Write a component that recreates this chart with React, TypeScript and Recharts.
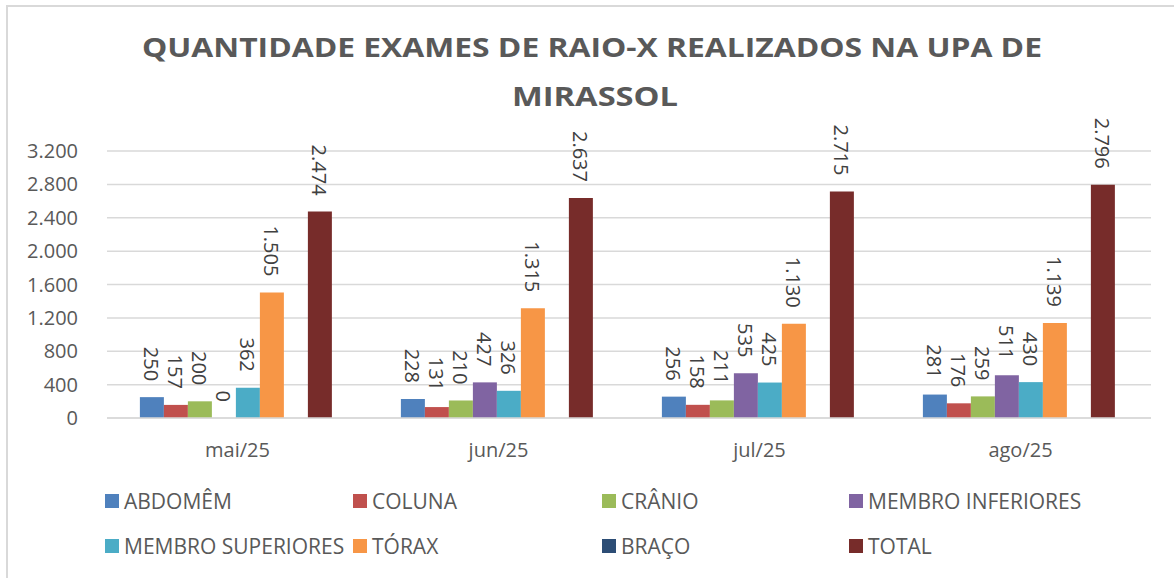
import React from 'react';
import { BarChart, Bar, XAxis, YAxis, CartesianGrid, Legend, LabelList } from 'recharts';

const categories = ['mai/25', 'jun/25', 'jul/25', 'ago/25'];
const abdomem = [250, 228, 256, 281];
const coluna = [157, 131, 158, 176];
const cranio = [200, 210, 211, 259];
const membroInferiores = [0, 427, 535, 511];
const membroSuperiores = [362, 326, 425, 430];
const torax = [1505, 1315, 1130, 1139];
const braco: (number | null)[] = [null, null, null, null];
const total = [2474, 2637, 2715, 2796];
const yTicks = [0, 400, 800, 1200, 1600, 2000, 2400, 2800, 3200];

const seriesDefs = [
  { key: 'abdomem', name: 'ABDOMÊM', color: '#4F81BD', values: abdomem },
  { key: 'coluna', name: 'COLUNA', color: '#C0504D', values: coluna },
  { key: 'cranio', name: 'CRÂNIO', color: '#9BBB59', values: cranio },
  { key: 'membroInf', name: 'MEMBRO INFERIORES', color: '#8064A2', values: membroInferiores },
  { key: 'membroSup', name: 'MEMBRO SUPERIORES', color: '#4BACC6', values: membroSuperiores },
  { key: 'torax', name: 'TÓRAX', color: '#F79646', values: torax },
  { key: 'braco', name: 'BRAÇO', color: '#2C4D75', values: braco },
  { key: 'total', name: 'TOTAL', color: '#772C2A', values: total },
];

const data = categories.map((c, i) => {
  const row: Record<string, any> = { cat: c, idx: i + 0.5 };
  seriesDefs.forEach((s) => {
    row[s.key] = s.values[i];
  });
  return row;
});

const fmt = (v: number) => String(v).replace(/\B(?=(\d{3})+(?!\d))/g, '.');

const FONT = "'Open Sans', sans-serif";

const RotLabel = (props: any) => {
  const { x, y, width, height, value } = props;
  if (value === null || value === undefined) return null;
  const cx = Number(x) + Number(width) / 2;
  const top = Math.min(Number(y), Number(y) + Number(height || 0));
  const ty = top - 16;
  return (
    <text
      x={cx}
      y={ty}
      transform={`rotate(90 ${cx} ${ty})`}
      textAnchor="end"
      dominantBaseline="central"
      fontSize={20}
      fill="#404040"
      fontFamily={FONT}
    >
      {fmt(Number(value))}
    </text>
  );
};

const LegendContent = () => (
  <div
    style={{
      display: 'grid',
      gridTemplateColumns: '248px 249px 247px 260px',
      rowGap: 21,
      paddingLeft: 105,
      fontFamily: FONT,
      fontSize: 21,
      color: '#595959',
    }}
  >
    {seriesDefs.map((s) => (
      <div key={s.key} style={{ display: 'flex', alignItems: 'center', height: 24, whiteSpace: 'nowrap' }}>
        <span style={{ display: 'inline-block', width: 14, height: 14, background: s.color, marginRight: 5 }} />
        <span>{s.name}</span>
      </div>
    ))}
  </div>
);

const tinyForZero = (v: any) => (v === 0 ? 0.01 : 0);

export default function App() {
  return (
    <div style={{ position: 'absolute', left: 0, top: 0, width: 1174, height: 578, background: '#fff', fontFamily: FONT }}>
      <BarChart
        width={1174}
        height={578}
        data={data}
        margin={{ top: 151, right: 23, left: 0, bottom: 99 }}
        barCategoryGap="12.6%"
        barGap={0}
      >
        <rect x={7} y={6} width={1200} height={600} fill="none" stroke="#d9d9d9" strokeWidth={2} />
        <text
          x={592}
          y={57}
          textAnchor="middle"
          fontSize={27}
          fontWeight={700}
          fill="#595959"
          fontFamily={FONT}
          textLength={900}
          lengthAdjust="spacingAndGlyphs"
        >
          QUANTIDADE EXAMES DE RAIO-X REALIZADOS NA UPA DE
        </text>
        <text
          x={595}
          y={106}
          textAnchor="middle"
          fontSize={27}
          fontWeight={700}
          fill="#595959"
          fontFamily={FONT}
          textLength={166}
          lengthAdjust="spacingAndGlyphs"
        >
          MIRASSOL
        </text>
        <CartesianGrid vertical={false} stroke="#d9d9d9" strokeWidth={1.5} />
        <XAxis
          xAxisId="edges"
          type="number"
          dataKey="idx"
          domain={[0, 4]}
          ticks={[0, 1, 2, 3, 4]}
          tick={false}
          axisLine={false}
          tickLine={{ stroke: '#d9d9d9', strokeWidth: 1.5 }}
          tickSize={7}
          height={1}
        />
        <XAxis
          dataKey="cat"
          axisLine={{ stroke: '#d9d9d9', strokeWidth: 1.5 }}
          tickLine={false}
          tick={{ fontSize: 20, fill: '#595959', fontFamily: FONT }}
          tickMargin={19}
          height={60}
        />
        <YAxis
          width={107}
          domain={[0, 3200]}
          ticks={yTicks}
          axisLine={false}
          tickLine={false}
          tickMargin={23}
          tickFormatter={(v: number) => fmt(v)}
          tick={{ fontSize: 20, fill: '#595959', fontFamily: FONT }}
        />
        <Legend
          layout="vertical"
          align="center"
          verticalAlign="middle"
          content={<LegendContent />}
          wrapperStyle={{ top: 489, left: 0, width: 1174, height: 80 }}
        />
        {seriesDefs.map((s) => (
          <Bar
            key={s.key}
            dataKey={s.key}
            name={s.name}
            fill={s.color}
            isAnimationActive={false}
            minPointSize={tinyForZero}
          >
            <LabelList dataKey={s.key} content={<RotLabel />} />
          </Bar>
        ))}
      </BarChart>
    </div>
  );
}
